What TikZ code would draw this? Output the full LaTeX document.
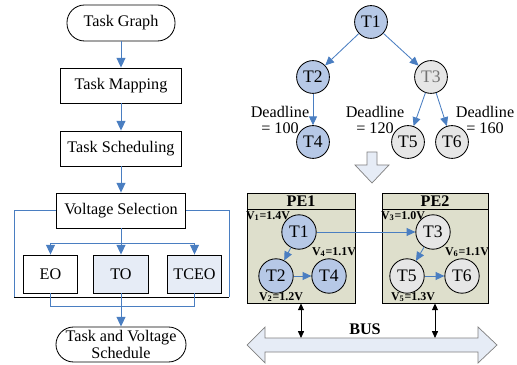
\documentclass[tikz,border=0pt]{standalone}
\usepackage{fontspec}
\setmainfont{Liberation Serif}
\usetikzlibrary{positioning, arrows.meta, calc}

\definecolor{flowblue}{RGB}{74,126,193}
\definecolor{nodeblue}{RGB}{182,200,230}
\definecolor{nodegray}{RGB}{230,230,230}
\definecolor{boxblue}{RGB}{230,236,246}
\definecolor{peolive}{RGB}{222,223,204}

\begin{document}
\begin{tikzpicture}[x=0.025cm, y=-0.025cm, font=\fontsize{11.5}{12}\selectfont,
    >={Triangle[length=2.4mm,width=2.2mm]},
    box/.style={draw, line width=0.6pt, minimum width=3.02cm, minimum height=0.875cm},
    pill/.style={draw, line width=0.6pt, rounded corners=0.44cm},
    opt/.style={box, minimum width=1.37cm, minimum height=0.95cm},
    task/.style={circle, draw, line width=0.6pt, minimum size=0.82cm, inner sep=0pt,
      font=\fontsize{12.5}{13}\selectfont},
    blueline/.style={draw=flowblue, line width=0.7pt},
    flow/.style={->, blueline, color=flowblue},
    tedge/.style={-{Triangle[length=2.2mm,width=2mm]}, draw=flowblue, color=flowblue, line width=0.6pt},
    pebox/.style={draw, fill=peolive, line width=0.6pt},
    pehead/.style={draw, fill=peolive, line width=0.6pt, minimum height=0.4cm, inner sep=0pt, font=\fontsize{11.5}{11}\selectfont\bfseries},
    vlab/.style={inner sep=0pt, font=\fontsize{8.5}{9}\selectfont\bfseries},
    bidir/.style={{Triangle[length=1.7mm,width=1.5mm]}-{Triangle[length=1.7mm,width=1.5mm]}, line width=0.6pt}]
  \useasboundingbox (0,0) rectangle (517,365);
  % Flow
  \node[pill, minimum width=2.7cm, minimum height=0.9cm] (graph) at (121,23) {Task Graph};
  \node[box] (map) at (121,85.5) {Task Mapping};
  \node[box] (sched) at (121,148.5) {Task Scheduling};
  \node[box, minimum width=3.22cm] (volt) at (121,210.5) {Voltage Selection};
  \node[opt] (eo) at (50.5,274) {EO};
  \node[opt, fill=boxblue] (to) at (121,274) {TO};
  \node[opt, fill=boxblue] (tceo) at (194.5,274) {TCEO};
  \node[pill, minimum width=3.25cm, minimum height=0.875cm, inner ysep=0pt, align=center,
    font=\fontsize{11.5}{12.5}\selectfont] (out) at (121,344.5) {Task and Voltage\\Schedule};
  \draw[flow] (graph) -- (map);
  \draw[flow] (map) -- (sched);
  \draw[flow] (sched) -- (volt);
  \coordinate (fl) at (14,297); \coordinate (fr) at (229,297);
  \draw[blueline] (volt.west) -| (fl); \draw[line width=0.6pt] (fl) -- (fr);
  \draw[blueline] (fr) |- (volt.east);
  \coordinate (split) at (121,243);
  \draw[blueline] (volt.south) -- (split);
  \draw[flow] (split) -| (eo.north); \draw[flow] (split) -- (to.north);
  \draw[flow] (split) -| (tceo.north);
  \coordinate (merge) at (121,306);
  \draw[blueline] (eo.south) |- (merge); \draw[blueline] (tceo.south) |- (merge);
  \draw[flow] (to.south) -- (out.north);
  % Task graph
  \foreach \i/\x/\y/\c/\t in {1/371/22/nodeblue/black, 2/313/77/nodeblue/black,
      3/431/77/nodegray/black!55, 4/313/142/nodeblue/black,
      5/408/142/nodegray/black, 6/452/142/nodegray/black}{
    \node[task, fill=\c, text=\t] (t\i) at (\x,\y) {T\i};
  }
  \draw[tedge] (t1) -- (t2); \draw[tedge] (t1) -- (t3);
  \draw[tedge] (t2) -- (t4);
  \draw[tedge] (t3) -- (t5); \draw[tedge] (t3) -- (t6);
  \node[align=center] (d4) at (280,120) {Deadline\\= 100};
  \node[align=center] (d5) at (375,120) {Deadline\\= 120};
  \node[align=center] (d6) at (485,120) {Deadline\\= 160};
  \draw[draw=black!50, fill=boxblue, line width=0.5pt] (367,152) -- (377,152) -- (377,165)
    -- (389,165) -- (372,183) -- (355,165) -- (367,165) -- cycle;
  % Mapping on PEs
  \node[pebox, minimum width=2.7cm, minimum height=2.75cm] (pe1) at (301,248) {};
  \node[pehead, minimum width=2.7cm, anchor=north] (pe1h) at (pe1.north) {PE1};
  \node[pebox, minimum width=2.65cm, minimum height=2.75cm] (pe2) at (435,248) {};
  \node[pehead, minimum width=2.65cm, anchor=north] (pe2h) at (pe2.north) {PE2};
  \foreach \i/\x/\y/\c in {1/299/232/nodeblue, 2/276/276/nodeblue, 4/329/276/nodeblue,
      3/433/232/nodegray, 5/407/276/nodegray, 6/462/276/nodegray}{
    \node[task, fill=\c, minimum size=0.86cm] (p\i) at (\x,\y) {T\i};
  }
  \draw[tedge] (p1) -- (p3); \draw[tedge] (p1) -- (p2); \draw[tedge] (p2) -- (p4);
  \draw[tedge] (p3) -- (p5); \draw[tedge] (p5) -- (p6);
  \node[vlab] (v1) at (268,216) {V\textsubscript{1}=1.4V};
  \node[vlab] (v4) at (334,252) {V\textsubscript{4}=1.1V};
  \node[vlab] (v2) at (281,297) {V\textsubscript{2}=1.2V};
  \node[vlab] (v3) at (403,216) {V\textsubscript{3}=1.0V};
  \node[vlab] (v6) at (467,252) {V\textsubscript{6}=1.1V};
  \node[vlab] (v5) at (413,297) {V\textsubscript{5}=1.3V};
  % Bus
  \draw[draw=black!50, fill=boxblue, line width=0.5pt] (247,345) -- (265,327) -- (265,338)
    -- (478,338) -- (478,327) -- (497,345) -- (478,363) -- (478,352) -- (265,352)
    -- (265,363) -- cycle;
  \node[font=\fontsize{11.5}{11}\selectfont\bfseries] (bus) at (365,329) {BUS};
  \coordinate (bustop) at (372,338);
  \draw[bidir] (pe1.south) -- (pe1.south |- bustop);
  \draw[bidir] (pe2.south) -- (pe2.south |- bustop);
\end{tikzpicture}
\end{document}
